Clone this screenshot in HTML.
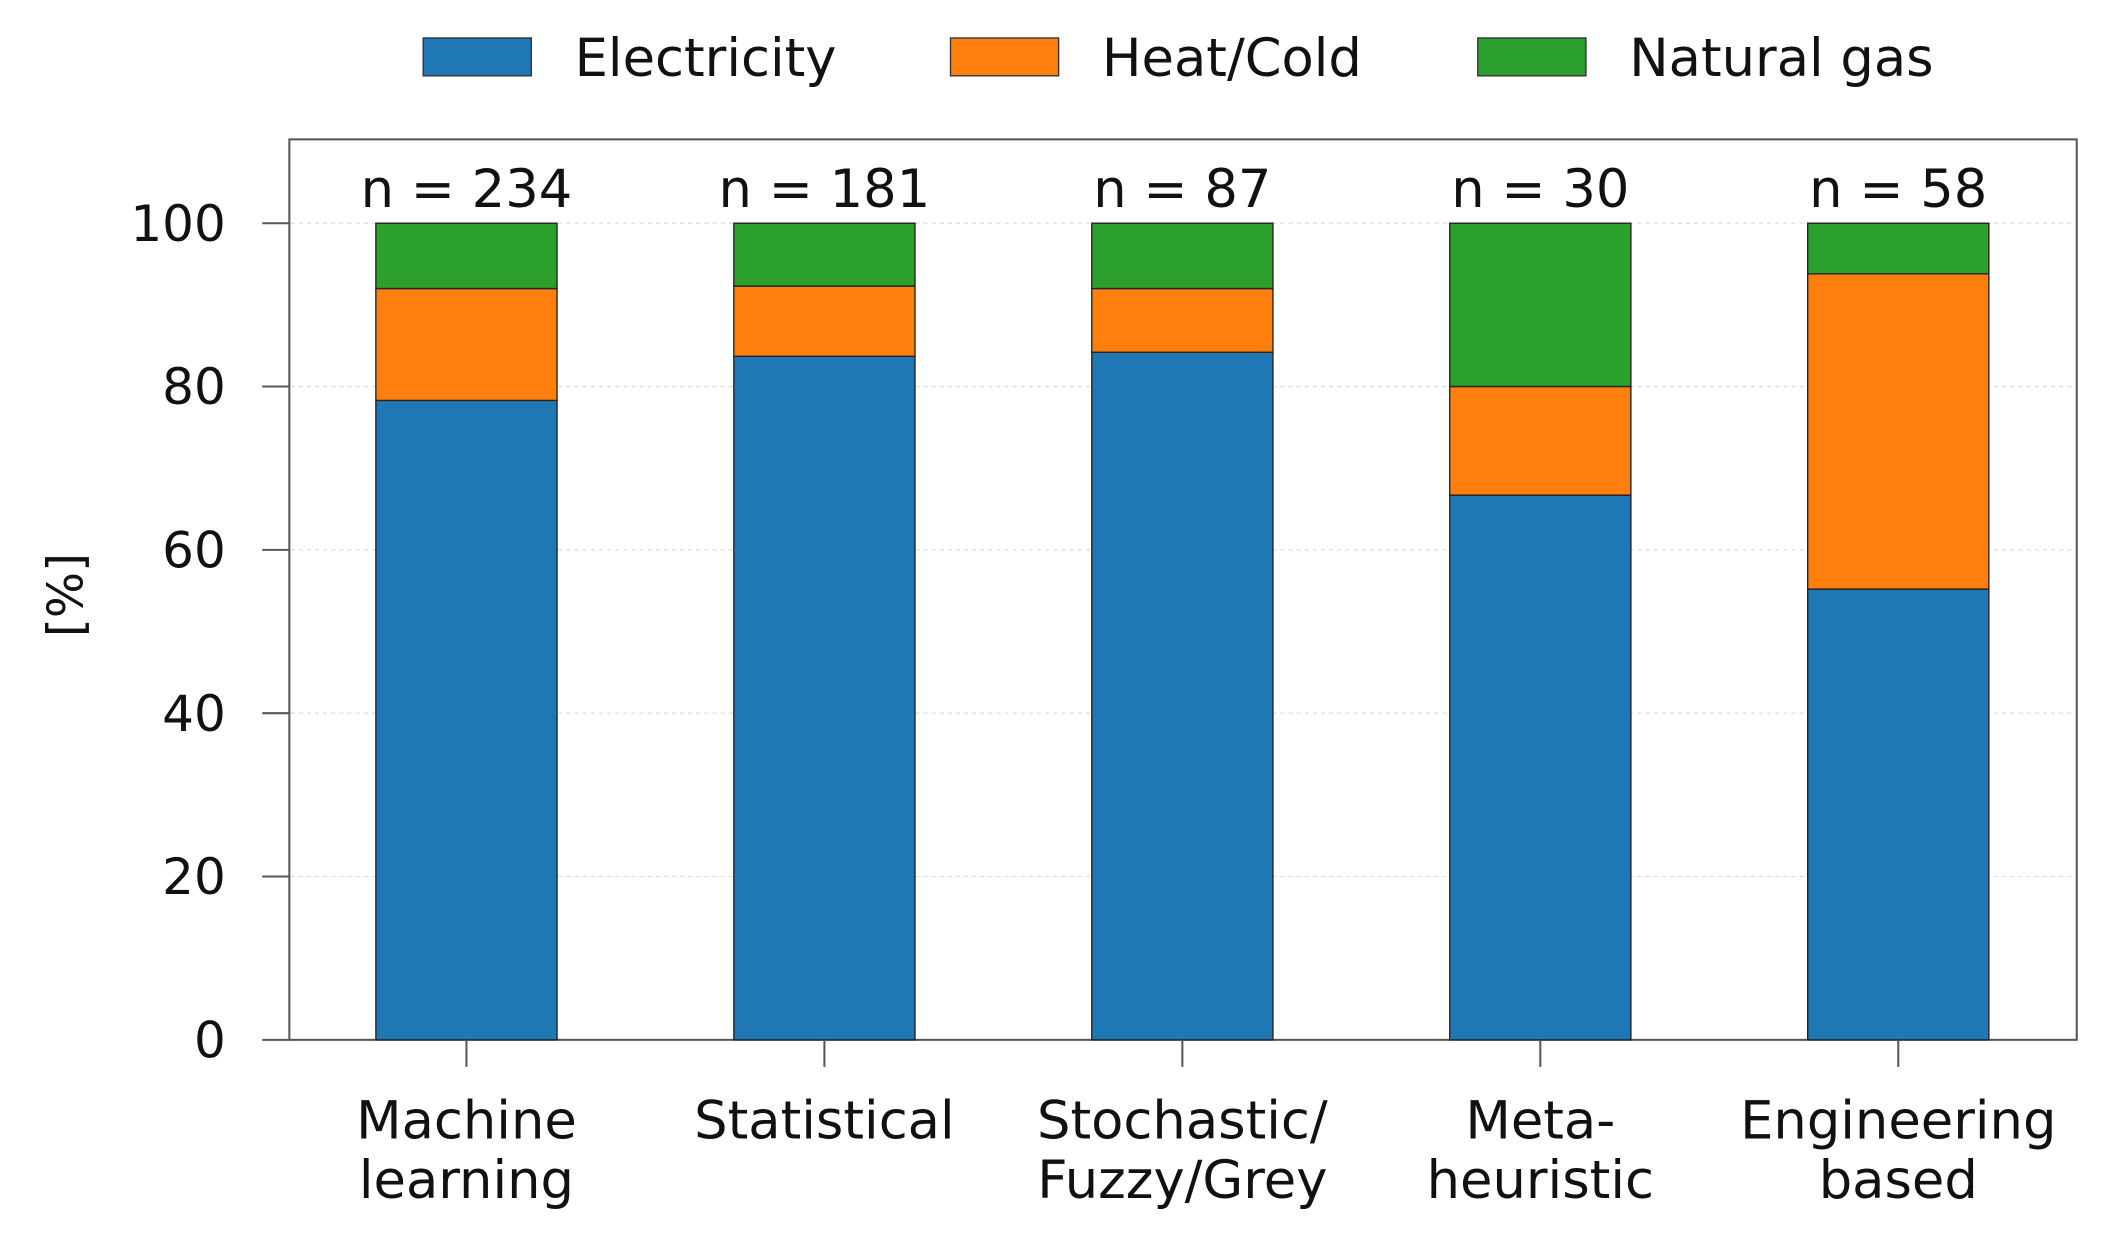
<!DOCTYPE html>
<html><head><meta charset="utf-8"><style>
html,body{margin:0;padding:0;background:#fff;}
svg{display:block;font-family:"DejaVu Sans","Liberation Sans",sans-serif;}
</style></head><body>
<svg id="chart" width="2120" height="1236" viewBox="0 0 1568 914" xmlns="http://www.w3.org/2000/svg">
<g id="legend"></g>
<rect x="214" y="103" width="1322" height="666" fill="none" stroke="#555" stroke-width="1.5"/>
<g id="grid"></g><g id="bars"></g><g id="axes"></g>
<text transform="translate(61,440) rotate(-90)" text-anchor="middle" font-size="36" fill="#111">[%]</text>
</svg>
<script>
const categories = [["Machine","learning"],["Statistical"],["Stochastic/","Fuzzy/Grey"],["Meta-","heuristic"],["Engineering","based"]];
const counts = [234,181,87,30,58];
const electricity = [78.3,83.7,84.2,66.7,55.2];
const heatCold = [13.7,8.6,7.8,13.3,38.6];
const naturalGas = [8.0,7.7,8.0,20.0,6.2];
const yTicks = [0,20,40,60,80,100];
const seriesNames = ["Electricity","Heat/Cold","Natural gas"];
const seriesColors = ["#1f77b4","#ff7f0e","#2ca02c"];

const NS="http://www.w3.org/2000/svg";
const y0=769, y100=165, x0=345, dx=264.75, bw=134;
const yS=v=>y0-(y0-y100)*v/100;
const xS=i=>x0+dx*i;
function mk(tag,attrs,parent,text){const e=document.createElementNS(NS,tag);for(const k in attrs)e.setAttribute(k,attrs[k]);if(text!==undefined)e.textContent=text;parent.appendChild(e);return e;}
const grid=document.getElementById('grid'),bars=document.getElementById('bars'),axes=document.getElementById('axes'),legend=document.getElementById('legend');
yTicks.forEach(t=>{
  if(t>0){const g=mk('line',{x1:215,x2:1535,y1:yS(t),y2:yS(t),stroke:'#ddd','stroke-width':1,'stroke-dasharray':'3,3'},grid);
  
  }
  const tk=mk('line',{x1:194,x2:214,y1:yS(t),y2:yS(t),stroke:'#555','stroke-width':1.5},axes);
  
  
  const lb=mk('text',{x:167,y:yS(t)+13,'text-anchor':'end','font-size':37,fill:'#111'},axes,String(t));
  
  
});
const series=[electricity,heatCold,naturalGas];
categories.forEach((c,i)=>{
  let base=0;const x=xS(i);
  series.forEach((s,j)=>{
    const r=mk('rect',{x:x-bw/2,y:yS(base+s[i]),width:bw,height:yS(base)-yS(base+s[i]),fill:seriesColors[j],stroke:'#222','stroke-width':1},bars);
    
    
    base+=s[i];
  });
  const n=mk('text',{x:x,y:153,'text-anchor':'middle','font-size':39,fill:'#111'},bars,'n = '+counts[i]);
  
  
  const tk=mk('line',{x1:x,x2:x,y1:769,y2:789,stroke:'#555','stroke-width':1.5},axes);
  
  
  const tl=mk('text',{x:x,'text-anchor':'middle','font-size':39,fill:'#111'},axes);
  
  
  c.forEach((ln,k)=>{mk('tspan',{x:x,y:842+44*k},tl,ln);});
});
const lx=[313,703,1093];
seriesNames.forEach((nm,j)=>{
  const r=mk('rect',{x:lx[j],y:28,width:80,height:28,fill:seriesColors[j],stroke:'#333','stroke-width':1},legend);
  
  
  const t=mk('text',{x:lx[j]+112,y:56,'font-size':39,fill:'#111'},legend,nm);
  
  
});
</script>
</body></html>
